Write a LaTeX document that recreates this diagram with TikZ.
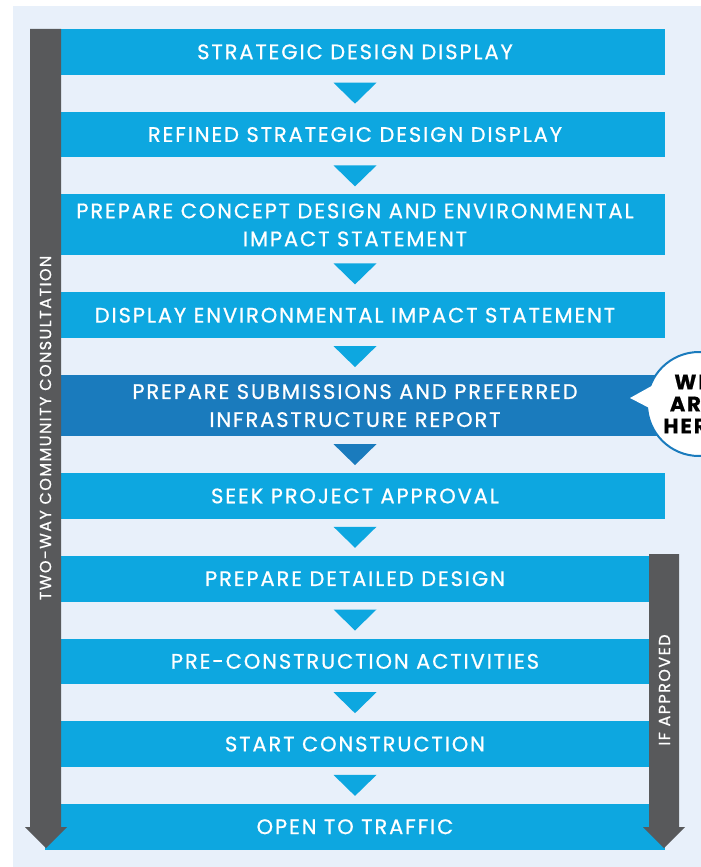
\documentclass[tikz,border=0pt]{standalone}
\usepackage{fontspec}
\setmainfont{Poppins}[FakeBold=0.7, LetterSpace=9]
\usetikzlibrary{positioning, calc}

\definecolor{stageblue}{HTML}{0DA7E0}
\definecolor{hereblue}{HTML}{1A7BBD}
\definecolor{bargrey}{HTML}{58595B}
\definecolor{pagebg}{HTML}{E8F0FA}

\begin{document}
\begin{tikzpicture}[x=1pt, y=-1pt,
  stage/.style={fill=stageblue, text=white, minimum width=620pt, minimum height=45.7pt,
    inner sep=0pt, outer sep=0pt, align=center, font=\fontsize{21}{28}\selectfont},
  twoline/.style={minimum height=61pt},
  here/.style={stage, fill=hereblue},
  sidetext/.style={text=white, font=\fontsize{16}{18}\selectfont, inner sep=0pt}]
  % Page and light backdrop
  \useasboundingbox (0,0) rectangle (701,867);
  \clip (0,0) rectangle (701,867);
  \fill[pagebg] (13,6) rectangle (701,867);

  % Stages, top to bottom
  \node[stage] (s1) at (355,51.85) {STRATEGIC DESIGN DISPLAY};
  \node[stage, below=37pt of s1] (s2) {REFINED STRATEGIC DESIGN DISPLAY};
  \node[stage, twoline, below=37pt of s2] (s3) {PREPARE CONCEPT DESIGN AND ENVIRONMENTAL\\IMPACT STATEMENT};
  \node[stage, below=37pt of s3] (s4) {DISPLAY ENVIRONMENTAL IMPACT STATEMENT};
  \node[here, twoline, below=37pt of s4] (s5) {PREPARE SUBMISSIONS AND PREFERRED\\INFRASTRUCTURE REPORT};
  \node[stage, below=37pt of s5] (s6) {SEEK PROJECT APPROVAL};
  \node[stage, below=37pt of s6] (s7) {PREPARE DETAILED DESIGN};
  \node[stage, below=37pt of s7] (s8) {PRE-CONSTRUCTION ACTIVITIES};
  \node[stage, below=37pt of s8] (s9) {START CONSTRUCTION};
  \node[stage, below=37pt of s9] (s10) {OPEN TO TRAFFIC};

  % Pointers between stages
  \foreach \a/\b in {s1/s2, s2/s3, s3/s4, s4/s5, s6/s7, s7/s8, s8/s9, s9/s10}
    \fill[stageblue] ($(\a.south)+(-21.5,8)$) -- ($(\a.south)+(21.5,8)$) -- ($(\b.north)+(0,-8)$) -- cycle;
  \fill[hereblue] ($(s5.south)+(-21.5,8)$) -- ($(s5.south)+(21.5,8)$) -- ($(s6.north)+(0,-8)$) -- cycle;

  % Consultation bar (left)
  \fill[bargrey] (30,29) -- (61,29) -- (61,827) -- (67,827) -- (46,848) -- (25,827) -- (30,827) -- cycle;
  \node[sidetext, rotate=90] (consult) at (45.5,428) {TWO-WAY COMMUNITY CONSULTATION};

  % Approval bar (right)
  \fill[bargrey] (649,554) -- (679,554) -- (679,827) -- (685,827) -- (664,848) -- (643,827) -- (649,827) -- cycle;
  \node[sidetext, rotate=90] (approved) at (664.5,690) {IF APPROVED};

  % Speech bubble
  \node[circle, fill=white, draw=hereblue, line width=2pt, minimum size=104pt, inner sep=0pt] (bubble) at (699,404) {};
  \fill[white] (657,383) -- (630,398) -- (657,412) -- cycle;
  \node[align=center, font=\fontsize{21}{22}\selectfont\bfseries] (weare) at (692,404) {WE\\ARE\\HERE};
\end{tikzpicture}
\end{document}
